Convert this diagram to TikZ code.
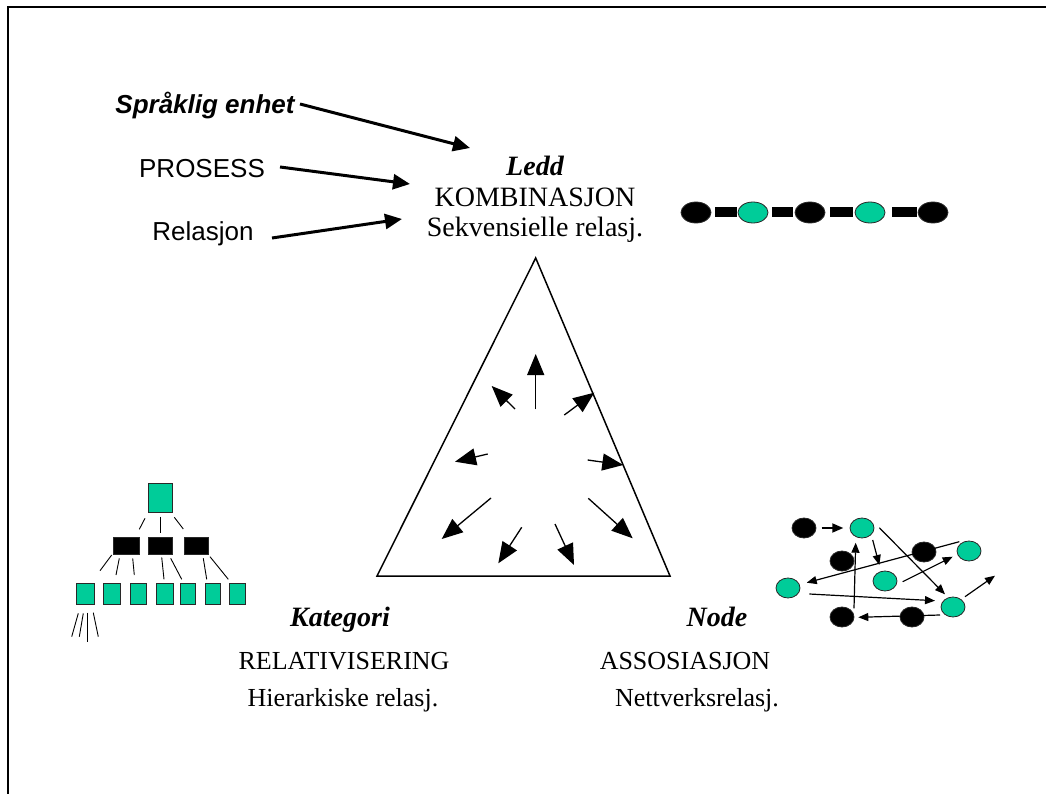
\documentclass[tikz,border=0pt]{standalone}
\usepackage{fontspec}
\setmainfont{Liberation Serif}
\newfontfamily\arialfont{Liberation Sans}
\usetikzlibrary{arrows.meta,shapes.geometric}
\definecolor{grn}{RGB}{0,204,153}
\definecolor{edge}{RGB}{40,40,40}
\begin{document}
\begin{tikzpicture}[x=1pt,y=-1pt,
  tx/.style={inner sep=0pt, anchor=base, font=\fontsize{28}{32}\selectfont},
  txs/.style={inner sep=0pt, anchor=base, font=\fontsize{26}{30}\selectfont},
  ar/.style={inner sep=0pt, anchor=base, font=\arialfont\fontsize{26}{30}\selectfont},
  bigarrow/.style={line width=3pt, -{Triangle[length=17pt,width=15pt]}},
  triarrow/.style={line width=1.3pt, -{Triangle[length=21pt,width=17pt]}},
  netarrow/.style={line width=1.2pt, -{Triangle[length=10pt,width=8pt]}},
  bell/.style={ellipse, draw=edge, line width=0.8pt, fill=black, inner sep=0pt, minimum width=30pt, minimum height=21pt},
  gell/.style={bell, fill=grn},
  blink/.style={fill=black, draw=none, inner sep=0pt, minimum height=10pt},
  bn/.style={ellipse, draw=edge, line width=0.8pt, fill=black, inner sep=0pt, minimum width=24pt, minimum height=20pt},
  gn/.style={bn, fill=grn},
  gsq/.style={draw=edge, line width=0.6pt, fill=grn, inner sep=0pt},
  bsq/.style={draw=edge, line width=0.6pt, fill=black, inner sep=0pt},
  tline/.style={line width=0.9pt}
]
\useasboundingbox (0,0) rectangle (1046,794);
% frame
\draw[line width=2pt] (8,794) -- (8,7) -- (1046,7);

% left labels
\node[ar, font=\arialfont\bfseries\itshape\fontsize{26}{30}\selectfont] (spr) at (205,114) {Språklig enhet};
\node[ar] (pro) at (202,178) {PROSESS};
\node[ar] (rel) at (203,241) {Relasjon};
\coordinate (s1) at (300,104);
\coordinate (e1) at (470,148);
\coordinate (s2) at (280,167);
\coordinate (e2) at (410,184);
\coordinate (s3) at (272,238);
\coordinate (e3) at (402,219);
\draw[bigarrow] (s1) -- (e1);
\draw[bigarrow] (s2) -- (e2);
\draw[bigarrow] (s3) -- (e3);

% top label
\node[tx, font=\bfseries\itshape\fontsize{28}{32}\selectfont] (ledd) at (535,176) {Ledd};
\node[tx] (komb) at (535,207) {KOMBINASJON};
\node[tx] (sekv) at (535,237) {Sekvensielle relasj.};

% chain
\node[blink, minimum width=22pt] (r1) at (726,212.5) {};
\node[blink, minimum width=21pt] (r2) at (782.5,212.5) {};
\node[blink, minimum width=23pt] (r3) at (841.5,212.5) {};
\node[blink, minimum width=25pt] (r4) at (904.5,212.5) {};
\node[bell] (c1) at (696,212.5) {};
\node[gell] (c2) at (753,212.5) {};
\node[bell] (c3) at (810,212.5) {};
\node[gell] (c4) at (870,212.5) {};
\node[bell] (c5) at (933,212.5) {};

% triangle
\coordinate (ta) at (535.7,258);
\coordinate (tb) at (377,576);
\coordinate (tc) at (670,576);
\draw[line width=1.5pt, line join=miter] (ta) -- (tb) -- (tc) -- cycle;
\foreach \i/\a/\b/\c/\d in {1/535.7/409.3/535.7/354, 2/515/409/491.7/386, 3/564.3/415/594.3/392.7,
  4/487.7/454/455/461.7, 5/587.7/460/623.3/465, 6/491/498/441.7/539,
  7/521.7/527.3/498.3/563.3, 8/555/524/574/565, 9/588.3/498.3/632.7/538.3}{
  \coordinate (tas\i) at (\a,\b);
  \coordinate (tae\i) at (\c,\d);
  \draw[triarrow] (tas\i) -- (tae\i);
}

% bottom labels
\node[tx, font=\bfseries\itshape\fontsize{28}{32}\selectfont] (kat) at (340,626) {Kategori};
\node[txs] (relv) at (344,669) {RELATIVISERING};
\node[txs] (hier) at (343,706) {Hierarkiske relasj.};
\node[tx, font=\bfseries\itshape\fontsize{28}{32}\selectfont] (node) at (717,626) {Node};
\node[txs] (asso) at (685,669) {ASSOSIASJON};
\node[txs] (nett) at (697,706) {Nettverksrelasj.};

% tree
\node[gsq, minimum width=24.4pt, minimum height=29.4pt] (t0) at (160.5,498) {};
\node[bsq, minimum width=25.7pt, minimum height=16.7pt] (t1) at (126.2,545.7) {};
\node[bsq, minimum width=24.4pt, minimum height=16.7pt] (t2) at (160.5,545.7) {};
\node[bsq, minimum width=24.3pt, minimum height=16.7pt] (t3) at (196.2,545.7) {};
\foreach \i/\l/\r in {1/76.7/94, 2/103.3/120, 3/130/146, 4/156.7/173.3, 5/180/195, 6/205/220, 7/229.3/245}{
  \node[gsq, minimum width=\r pt-\l pt, minimum height=21pt] (b\i) at ({(\l+\r)/2},593.8) {};
}
\foreach \a/\b/\c/\d in {145/518.3/139.3/529.3, 160/516.7/160/533.3, 174.3/517.3/183.3/529,
  111.7/555/100/570.7, 119.3/558.3/116/575, 132.7/558.3/134.3/575,
  161.7/557.3/164/579.3, 170.7/558.3/181.7/579.3, 203.3/558.3/206.7/579.3, 210/556.7/228.3/579.3,
  78.3/613.3/71.7/636.7, 83.3/613.3/79.3/636.7, 87.7/612.7/87.7/641.7, 93.3/612.7/98.3/636.7}{
  \draw[tline] (\a,\b) -- (\c,\d);
}

% network
\node[bn] (B1) at (804,528) {};
\node[gn] (G1) at (862,528) {};
\node[bn] (B2) at (842,561) {};
\node[bn] (B3) at (924,552) {};
\node[gn] (G2) at (969,551) {};
\node[gn] (G3) at (885,581) {};
\node[gn] (G4) at (788,588) {};
\node[gn] (G5) at (953,607) {};
\node[bn] (B4) at (842,617) {};
\node[bn] (B5) at (912,617) {};
\coordinate (n1s) at (821.7,528); \coordinate (n1e) at (843.3,528);
\coordinate (n2s) at (872.7,540); \coordinate (n2e) at (879.3,565);
\coordinate (n3s) at (879.3,527.7); \coordinate (n3e) at (945,594.3);
\coordinate (n4s) at (854,608.3); \coordinate (n4e) at (855.7,542.7);
\coordinate (n5s) at (959.3,541.7); \coordinate (n5e) at (806.7,582.7);
\coordinate (n6s) at (902.7,581.7); \coordinate (n6e) at (952.7,556.7);
\coordinate (n7s) at (809.3,594); \coordinate (n7e) at (935,600.7);
\coordinate (n8s) at (940,615); \coordinate (n8e) at (858.3,617.3);
\coordinate (n9s) at (965,596.7); \coordinate (n9e) at (995,575.7);
\draw[netarrow, line width=1.8pt, -{Triangle[length=11pt,width=9pt]}] (n1s) -- (n1e);
\foreach \k in {2,...,9}{ \draw[netarrow] (n\k s) -- (n\k e); }
\end{tikzpicture}
\end{document}
